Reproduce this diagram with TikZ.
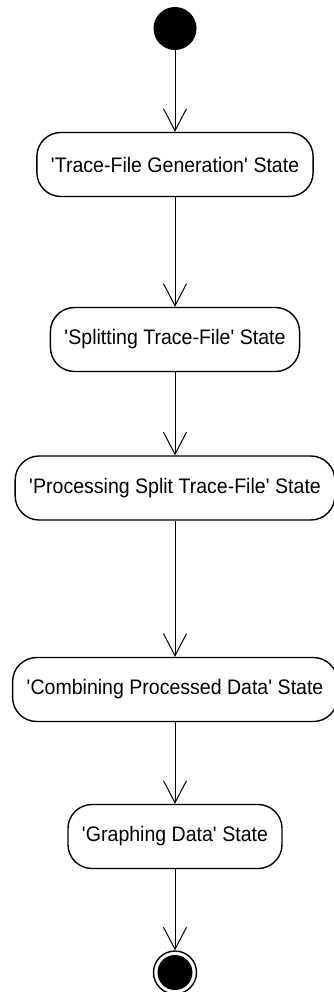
\documentclass[tikz,border=0pt]{standalone}
\usepackage{fontspec}
\setmainfont{Liberation Sans}[FakeStretch=0.93]
\usetikzlibrary{arrows.meta}

\newcommand{\sq}{\textquotesingle}

\begin{document}
\begin{tikzpicture}[x=1pt,y=1pt,yscale=-1,xscale=1,
    state/.style={draw, line width=1.4pt, rounded corners=24pt, minimum height=64pt,
      inner xsep=14pt, font=\fontsize{21}{25}\selectfont},
    trans/.style={line width=1pt, -{Straight Barb[length=22pt,width=23pt]}}]
  \useasboundingbox (0,0) rectangle (333,992);

  %Initial state
  \node [circle, fill=black, inner sep=0pt, minimum size=43pt] (start) at (175,28.5) {};

  %States
  \node [state] (gen) at (175,164.5) {\sq Trace-File Generation\sq{} State};
  \node [state] (split) at (175,339.5) {\sq Splitting Trace-File\sq{} State};
  \node [state] (proc) at (175,488) {\sq Processing Split Trace-File\sq{} State};
  \node [state] (comb) at (175,689.5) {\sq Combining Processed Data\sq{} State};
  \node [state] (graph) at (175,836.5) {\sq Graphing Data\sq{} State};

  %Final state
  \node [circle, draw, line width=1.4pt, inner sep=0pt, minimum size=43pt] (stop) at (175,972.5) {};
  \fill (stop.center) circle (17.5pt);

  %Transitions
  \draw [trans] (start) -- (gen);
  \draw [trans] (gen) -- (split);
  \draw [trans] (split) -- (proc);
  \draw [trans] (proc) -- (comb);
  \draw [trans] (comb) -- (graph);
  \draw [trans] (graph) -- (stop);
\end{tikzpicture}
\end{document}
